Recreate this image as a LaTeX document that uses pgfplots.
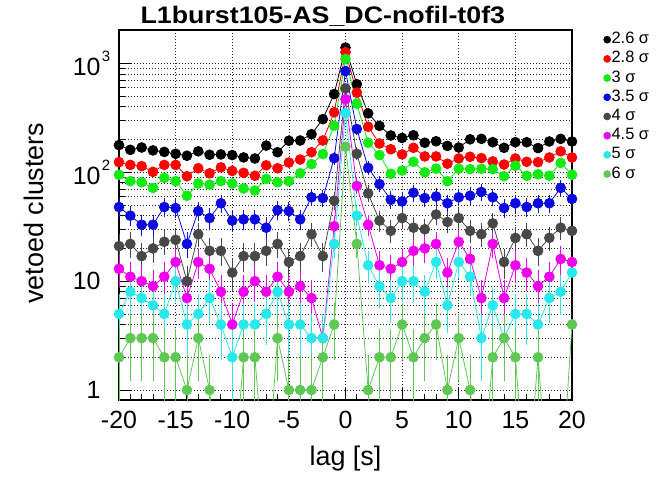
\documentclass[border=0pt]{standalone}
\usepackage{fontspec}
\setmainfont{Liberation Sans}
\newfontfamily\titlefont{Liberation Sans}[FakeStretch=1.12]
\usepackage{pgfplots}
\pgfplotsset{compat=1.18}
\usepackage{pgfplotstable}

\definecolor{sA}{RGB}{0,0,0}
\definecolor{sB}{RGB}{255,0,0}
\definecolor{sC}{RGB}{20,235,20}
\definecolor{sD}{RGB}{10,10,225}
\definecolor{sE}{RGB}{72,72,72}
\definecolor{sF}{RGB}{238,0,238}
\definecolor{sG}{RGB}{40,232,235}
\definecolor{sH}{RGB}{95,200,85}

% vetoed clusters per lag, one table per threshold
\pgfplotstableread{
x y
-20 178
-19 161
-18 169
-17 159
-16 154
-15 148
-14 142
-13 156
-12 145
-11 146
-10 144
-9 137
-8 134
-7 176
-6 153
-5 195
-4 196
-3 224
-2 308
-1 524
0 1400
1 645
2 348
3 267
4 218
5 207
6 219
7 187
8 193
9 175
10 169
11 201
12 203
13 189
14 168
15 189
16 189
17 167
18 192
19 203
20 192
}\tblA

\pgfplotstableread{
x y
-20 124
-19 117
-18 114
-17 101
-16 117
-15 117
-14 92
-13 109
-12 98
-11 111
-10 103
-9 99
-8 93
-7 116
-6 109
-5 123
-4 131
-3 153
-2 196
-1 356
0 1270
1 540
2 262
3 184
4 163
5 146
6 168
7 140
8 140
9 120
10 134
11 139
12 135
13 126
14 118
15 134
16 125
17 124
18 137
19 156
20 137
}\tblB

\pgfplotstableread{
x y
-20 95
-19 83
-18 81
-17 72
-16 89
-15 83
-14 61
-13 79
-12 77
-11 83
-10 79
-9 71
-8 68
-7 87
-6 81
-5 83
-4 98
-3 119
-2 147
-1 268
0 1100
1 427
2 187
3 144
4 97
5 104
6 125
7 100
8 108
9 83
10 108
11 107
12 108
13 107
14 92
15 115
16 93
17 96
18 93
19 122
20 95
}\tblC

\pgfplotstableread{
x y e
-20 48 6.93
-19 40 6.32
-18 33 5.74
-17 33 5.74
-16 48 6.93
-15 47 6.86
-14 22 4.69
-13 44 6.63
-12 38 6.16
-11 52 7.21
-10 36 6.00
-9 37 6.08
-8 37 6.08
-7 31 5.57
-6 45 6.71
-5 44 6.63
-4 37 6.08
-3 59 7.68
-2 58 7.62
-1 135 11.62
0 850 29.15
1 250 15.81
2 110 10.49
3 78 8.83
4 56 7.48
5 54 7.35
6 65 8.06
7 58 7.62
8 60 7.75
9 52 7.21
10 59 7.68
11 61 7.81
12 66 8.12
13 59 7.68
14 47 6.86
15 52 7.21
16 48 6.93
17 52 7.21
18 52 7.21
19 72 8.49
20 57 7.55
}\tblD

\pgfplotstableread{
x y e
-20 21 4.58
-19 22 4.69
-18 17 4.12
-17 20 4.47
-16 23 4.80
-15 24 4.90
-14 10 3.16
-13 27 5.20
-12 19 4.36
-11 19 4.36
-10 12 3.46
-9 17 4.12
-8 17 4.12
-7 19 4.36
-6 22 4.69
-5 15 3.87
-4 17 4.12
-3 27 5.20
-2 17 4.12
-1 55 7.42
0 590 24.29
1 148 12.17
2 64 8.00
3 36 6.00
4 29 5.39
5 38 6.16
6 31 5.57
7 30 5.48
8 41 6.40
9 35 5.92
10 38 6.16
11 29 5.39
12 27 5.20
13 34 5.83
14 15 3.87
15 25 5.00
16 27 5.20
17 19 4.36
18 25 5.00
19 31 5.57
20 29 5.39
}\tblE

\pgfplotstableread{
x y e
-20 13 3.61
-19 11 3.32
-18 10 3.16
-17 9 3.00
-16 11 3.32
-15 15 3.87
-14 7 2.65
-13 15 3.87
-12 13 3.61
-11 8 2.83
-10 4 2.00
-9 8 2.83
-8 10 3.16
-7 8 2.83
-6 11 3.32
-5 8 2.83
-4 9 3.00
-3 7 2.65
-2 3 1.73
-1 32 5.66
0 470 21.68
1 75 8.66
2 33 5.74
3 14 3.74
4 13 3.61
5 15 3.87
6 19 4.36
7 20 4.47
8 22 4.69
9 12 3.46
10 23 4.80
11 16 4.00
12 7 2.65
13 22 4.69
14 7 2.65
15 14 3.74
16 12 3.46
17 9 3.00
18 11 3.32
19 16 4.00
20 15 3.87
}\tblF

\pgfplotstableread{
x y e
-20 5 2.24
-19 8 2.83
-18 7 2.65
-17 6 2.45
-16 5 2.24
-15 10 3.16
-14 4 2.00
-13 5 2.24
-12 7 2.65
-11 4 2.00
-10 2 1.41
-9 4 2.00
-8 4 2.00
-7 5 2.24
-6 8 2.83
-5 4 2.00
-4 4 2.00
-3 3 1.73
-2 3 1.73
-1 22 4.69
0 350 18.71
1 40 6.32
2 14 3.74
3 9 3.00
4 7 2.65
5 10 3.16
6 10 3.16
7 8 2.83
8 15 3.87
9 6 2.45
10 15 3.87
11 11 3.32
12 3 1.73
13 6 2.45
14 3 1.73
15 5 2.24
16 5 2.24
17 4 2.00
18 7 2.65
19 8 2.83
20 12 3.46
}\tblG

% empty lags are written as 0.1, below the visible range of the log axis
\pgfplotstableread{
x y ep em
-20 2 1.41 1.41
-19 3 1.73 1.73
-18 3 1.73 1.73
-17 3 1.73 1.73
-16 2 1.41 1.41
-15 2 1.41 1.41
-14 1 1.00 0.95
-13 3 1.73 1.73
-12 1 1.00 0.95
-11 0.1 0 0
-10 0.1 0 0
-9 2 1.41 1.41
-8 2 1.41 1.41
-7 0.1 0 0
-6 3 1.73 1.73
-5 1 1.00 0.95
-4 1 1.00 0.95
-3 1 1.00 0.95
-2 2 1.41 1.41
-1 4 2.00 2.00
0 172 13.11 13.11
1 22 4.69 4.69
2 1 1.00 0.95
3 2 1.41 1.41
4 2 1.41 1.41
5 4 2.00 2.00
6 2 1.41 1.41
7 3 1.73 1.73
8 4 2.00 2.00
9 1 1.00 0.95
10 3 1.73 1.73
11 1 1.00 0.95
12 0.1 0 0
13 2 1.41 1.41
14 3 1.73 1.73
15 2 1.41 1.41
16 0.1 0 0
17 2 1.41 1.41
18 0.1 0 0
19 0.1 0 0
20 4 2.00 2.00
}\tblH

\pgfplotsset{
  ser/.style={color=#1, line width=0.8bp, mark=*, mark size=4.9bp,
    mark options={solid, fill=#1, draw=#1}},
  errs/.style={error bars/.cd, y dir=both, y explicit,
    error bar style={line width=0.8bp},
    error mark options={line width=0.8bp, mark size=2.6bp}},
}

\begin{document}
\begin{tikzpicture}
\begin{axis}[
  name=ax,
  scale only axis, width=453bp, height=370bp,
  xmin=-20, xmax=20,
  ymode=log, ymin=0.81, ymax=2030,
  xtick={-20,-15,...,20},
  xticklabels={-20,-15,-10,-5,0,5,10,15,20},
  minor x tick num=4,
  ytick={1,10,100,1000},
  yticklabels={1,10,
    {10\rlap{\hspace{1.5bp}\raisebox{14bp}{\fontsize{15}{15}\selectfont 2}}},
    {10\rlap{\hspace{1.5bp}\raisebox{14bp}{\fontsize{15}{15}\selectfont 3}}}},
  /pgf/number format/assume math mode=true,
  tick pos=left, tick align=inside,
  major tick length=12bp, minor tick length=6bp,
  tick style={black, line width=0.9bp},
  xmajorgrids, ymajorgrids, yminorgrids,
  major grid style={black!85, line width=0.7bp, dash pattern=on 0.9bp off 2.1bp},
  minor grid style={black!85, line width=0.7bp, dash pattern=on 0.9bp off 2.1bp},
  axis line style={line width=1.3bp},
  ticklabel style={font=\fontsize{25}{25}\selectfont},
  xticklabel style={yshift=-8bp},
  yticklabel style={xshift=-15bp},
  xlabel={lag [s]},
  ylabel={vetoed clusters},
  label style={font=\fontsize{27}{27}\selectfont},
  xlabel style={at={(axis description cs:0.5,-0.1595)}, anchor=center},
  ylabel style={at={(axis description cs:-0.1876,0.505)}, anchor=center},
  title={L1burst105-AS\_DC-nofil-t0f3},
  title style={at={(axis description cs:0.45,1.021)}, anchor=center,
    font=\titlefont\bfseries\fontsize{24}{24}\selectfont},
  legend style={at={(axis description cs:1.0697,0.996)}, anchor=north west,
    draw=none, fill=none, inner sep=0pt, row sep=3.2bp,
    font=\fontsize{16.5}{16.5}\selectfont,
    nodes={inner sep=1bp, text height=11bp, text depth=3bp}},
  legend cell align=left,
  legend image code/.code={\draw[#1] plot[only marks, mark=*, mark size=3.4bp] coordinates {(4bp,0bp)};},
]
\addplot[ser=sA] table[x=x, y=y] {\tblA};
\addlegendentry{2.6 σ}
\addplot[ser=sB] table[x=x, y=y] {\tblB};
\addlegendentry{2.8 σ}
\addplot[ser=sC] table[x=x, y=y] {\tblC};
\addlegendentry{3 σ}
\addplot[ser=sD, errs] table[x=x, y=y, y error=e] {\tblD};
\addlegendentry{3.5 σ}
\addplot[ser=sE, errs] table[x=x, y=y, y error=e] {\tblE};
\addlegendentry{4 σ}
\addplot[ser=sF, errs] table[x=x, y=y, y error=e] {\tblF};
\addlegendentry{4.5 σ}
\addplot[ser=sG, errs] table[x=x, y=y, y error=e] {\tblG};
\addlegendentry{5 σ}
\addplot[ser=sH, errs] table[x=x, y=y, y error plus=ep, y error minus=em] {\tblH};
\addlegendentry{6 σ}
\end{axis}
\pgfresetboundingbox
\path[use as bounding box] ([xshift=-119bp,yshift=-79bp]ax.south west)
  rectangle ([xshift=538bp,yshift=400bp]ax.south west);
\end{tikzpicture}
\end{document}
